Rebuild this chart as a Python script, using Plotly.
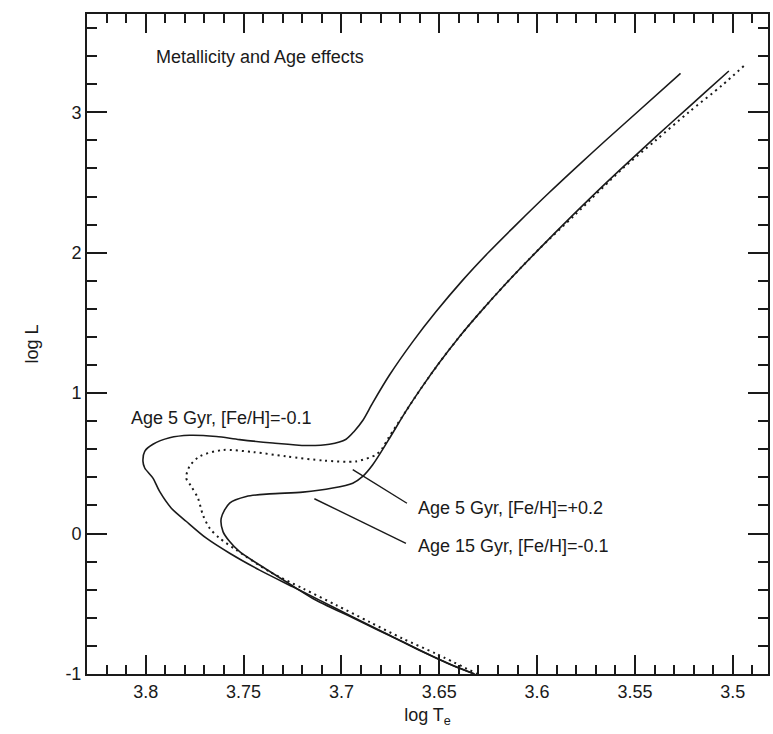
import plotly.graph_objects as go

# Isochrone: Age 5 Gyr, [Fe/H]=-0.1 (solid, outer)
a_logt = [3.5267, 3.548, 3.565, 3.5786, 3.5939, 3.6109, 3.6245, 3.6381, 3.6517, 3.6636,
          3.6755, 3.684, 3.6891, 3.6934, 3.6976, 3.7061, 3.718, 3.735, 3.752, 3.7639,
          3.7776, 3.7878, 3.7963, 3.8005, 3.8014, 3.8005, 3.7963, 3.7929, 3.7869, 3.7792,
          3.769, 3.7571, 3.7418, 3.7248, 3.7112, 3.6942, 3.6772, 3.6602, 3.6432, 3.632]
a_logl = [3.277, 3.011, 2.799, 2.626, 2.427, 2.197, 2.007, 1.803, 1.579, 1.365,
          1.127, 0.931, 0.805, 0.729, 0.672, 0.636, 0.627, 0.645, 0.669, 0.691,
          0.70, 0.682, 0.636, 0.586, 0.514, 0.467, 0.395, 0.30, 0.181, 0.086,
          -0.033, -0.140, -0.260, -0.379, -0.474, -0.593, -0.712, -0.831, -0.938, -1.0]

# Isochrone: Age 5 Gyr, [Fe/H]=+0.2 (dotted)
b_logt = [3.4944, 3.5054, 3.5224, 3.5394, 3.5564, 3.5805, 3.599, 3.616, 3.6296, 3.6398,
          3.65, 3.6585, 3.667, 3.676, 3.679, 3.6823, 3.6925, 3.709, 3.7282, 3.745,
          3.7606, 3.7724, 3.7776, 3.7793, 3.7767, 3.7733, 3.7708, 3.7673, 3.7622, 3.7537,
          3.7367, 3.7197, 3.7027, 3.6857, 3.6687, 3.6517, 3.6305]
b_logl = [3.33, 3.193, 3.002, 2.80, 2.598, 2.272, 2.026, 1.779, 1.568, 1.40,
          1.216, 1.050, 0.872, 0.68, 0.609, 0.562, 0.514, 0.52, 0.55, 0.58,
          0.595, 0.55, 0.479, 0.395, 0.336, 0.252, 0.134, 0.038, -0.033, -0.117,
          -0.271, -0.391, -0.509, -0.629, -0.748, -0.855, -1.0]

# Isochrone: Age 15 Gyr, [Fe/H]=-0.1 (solid, inner)
c_logt = [3.502, 3.5139, 3.531, 3.548, 3.565, 3.582, 3.599, 3.616, 3.6296, 3.6398,
          3.65, 3.6585, 3.667, 3.676, 3.684, 3.6891, 3.6942, 3.7044, 3.7197, 3.7367,
          3.7486, 3.7571, 3.7614, 3.7605, 3.7571, 3.752, 3.7418, 3.7282, 3.7146, 3.6942,
          3.6687, 3.6432, 3.632]
c_logl = [3.294, 3.145, 2.931, 2.715, 2.494, 2.264, 2.026, 1.779, 1.568, 1.40,
          1.216, 1.050, 0.872, 0.665, 0.49, 0.407, 0.359, 0.324, 0.295, 0.283,
          0.264, 0.217, 0.110, 0.014, -0.057, -0.129, -0.224, -0.343, -0.462, -0.600,
          -0.771, -0.94, -1.0]

# Leader lines for labels (logT, logL)
lead1_logt = [3.6942, 3.6665]
lead1_logl = [0.455, 0.216]
lead2_logt = [3.7138, 3.667]
lead2_logl = [0.248, -0.069]

# Text labels
label_texts = ["Metallicity and Age effects", "Age 5 Gyr, [Fe/H]=-0.1",
               "Age 5 Gyr, [Fe/H]=+0.2", "Age 15 Gyr, [Fe/H]=-0.1"]
label_logt = [3.7959, 3.8087, 3.6617, 3.6617]
label_logl = [3.393, 0.821, 0.179, -0.086]

x_ticks = [3.8, 3.75, 3.7, 3.65, 3.6, 3.55, 3.5]
x_ticklabels = ["3.8", "3.75", "3.7", "3.65", "3.6", "3.55", "3.5"]
y_ticks = [-1, 0, 1, 2, 3]
y_ticklabels = ["-1", "0", "1", "2", "3"]

FONT = "Liberation Sans, Arial, sans-serif"
INK = "#1a1a1a"

fig = go.Figure()
fig.add_trace(go.Scatter(x=a_logt, y=a_logl, mode="lines",
                         line=dict(color=INK, width=1.6, shape="spline", smoothing=0.8),
                         showlegend=False, hoverinfo="skip"))
fig.add_trace(go.Scatter(x=b_logt, y=b_logl, mode="lines",
                         line=dict(color=INK, width=2, dash="2px,4px", shape="spline", smoothing=0.8),
                         showlegend=False, hoverinfo="skip"))
fig.add_trace(go.Scatter(x=c_logt, y=c_logl, mode="lines",
                         line=dict(color=INK, width=1.6, shape="spline", smoothing=0.8),
                         showlegend=False, hoverinfo="skip"))
for lx, ly in [(lead1_logt, lead1_logl), (lead2_logt, lead2_logl)]:
    fig.add_trace(go.Scatter(x=lx, y=ly, mode="lines", line=dict(color=INK, width=1.4),
                             showlegend=False, hoverinfo="skip"))

for t, lx, ly in zip(label_texts, label_logt, label_logl):
    fig.add_annotation(x=lx, y=ly, text=t, showarrow=False, xanchor="left", yanchor="middle",
                       font=dict(family=FONT, size=18, color=INK))

axis_common = dict(showline=True, linewidth=2, linecolor=INK, mirror="allticks",
                   ticks="inside", tickwidth=1.5, tickcolor=INK, showgrid=False, zeroline=False,
                   tickfont=dict(family=FONT, size=18, color=INK))

fig.update_xaxes(range=[3.83, 3.482], tickvals=x_ticks, ticktext=x_ticklabels, ticklen=19,
                 minor=dict(dtick=0.01, tick0=3.5, ticks="inside", ticklen=9, tickwidth=1.5,
                            tickcolor=INK, showgrid=False),
                 title=dict(text="log T<sub>e</sub>", font=dict(family=FONT, size=18, color=INK),
                            standoff=8),
                 **axis_common)
fig.update_yaxes(range=[-1, 3.7], tickvals=y_ticks, ticktext=y_ticklabels, ticklen=20,
                 minor=dict(dtick=0.2, tick0=0, ticks="inside", ticklen=10, tickwidth=1.5,
                            tickcolor=INK, showgrid=False),
                 title=dict(text="log L", font=dict(family=FONT, size=18, color=INK), standoff=22),
                 **axis_common)

fig.update_layout(width=773, height=734, margin=dict(l=87, r=3, t=14, b=60),
                  paper_bgcolor="white", plot_bgcolor="white")

fig.write_html("out.html")
